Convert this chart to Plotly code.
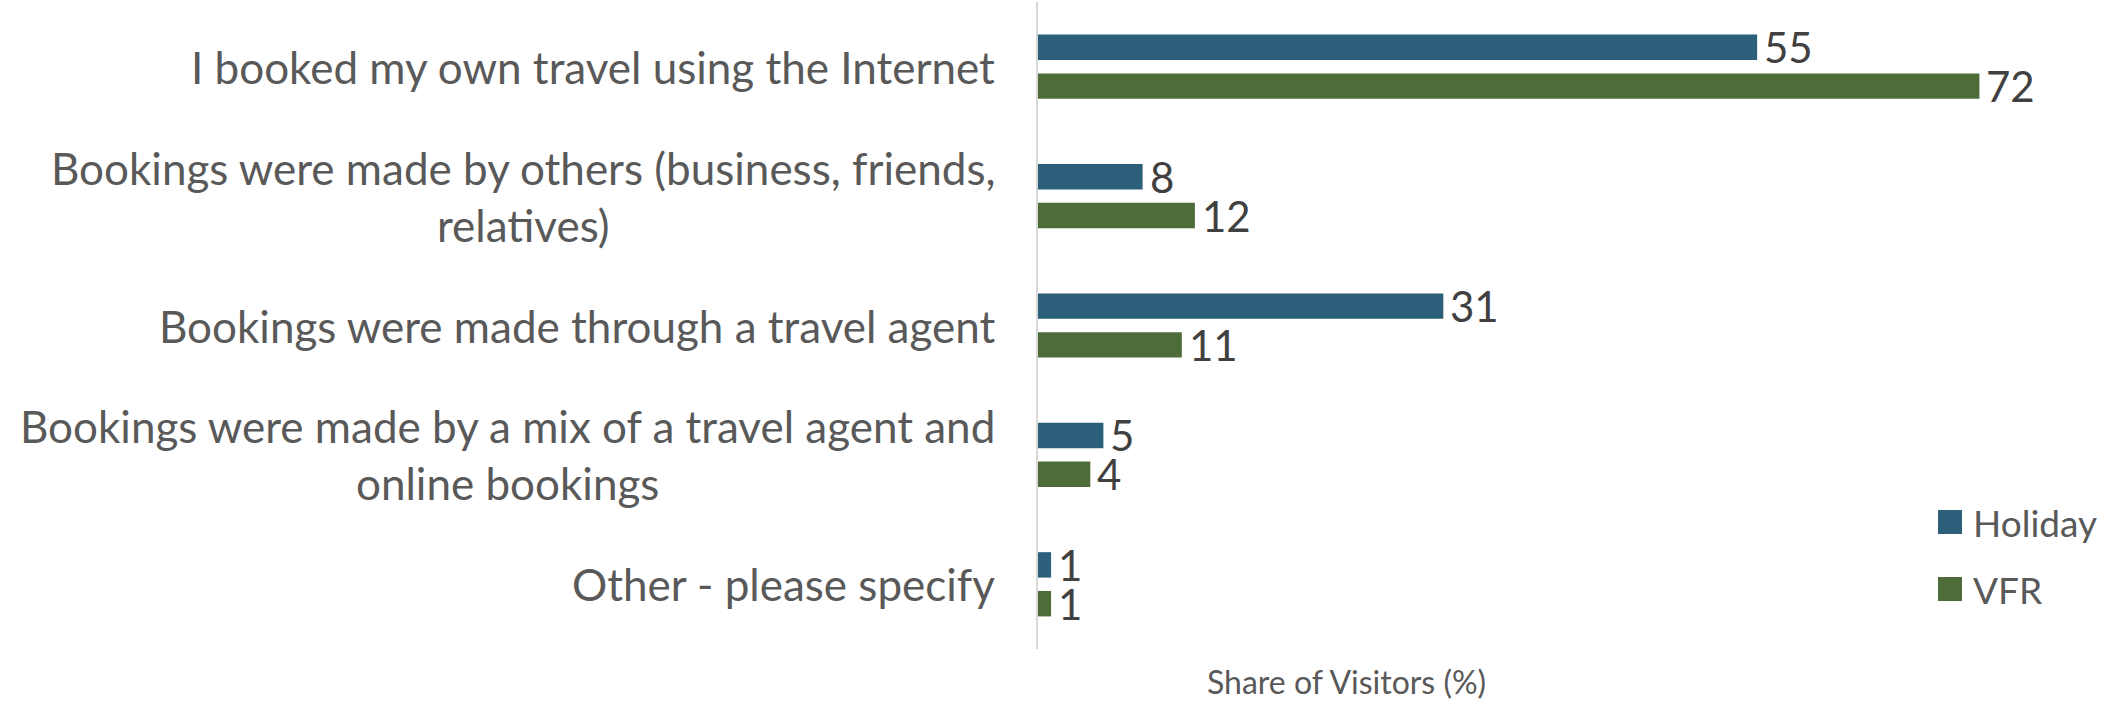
import plotly.graph_objects as go

# Booking method by visitor type, share of visitors (%)
categories = [
    "I booked my own travel using the Internet",
    "Bookings were made by others (business, friends,<br>relatives)",
    "Bookings were made through a travel agent",
    "Bookings were made by a mix of a travel agent and<br>online bookings",
    "Other - please specify",
]
holiday = [55, 8, 31, 5, 1]
vfr = [72, 12, 11, 4, 1]
series_names = ["Holiday", "VFR"]
axis_title = "Share of Visitors (%)"

FONT = "Lato, 'Open Sans', sans-serif"
HOLIDAY_COLOR = "#2C5F7A"
VFR_COLOR = "#4E6C37"

W, H = 2106, 704
L, R, T, B = 1038, 22, 2, 55
PLOT_W, PLOT_H = W - L - R, H - T - B
BARGAP = 0.4
slot = (1 - BARGAP) / 2  # width of each series slot within a category


def px_to_paper(px, py):
    """Convert page pixel position to paper coordinates."""
    return (px - L) / PLOT_W, (H - B - py) / PLOT_H


fig = go.Figure()
series = [
    (series_names[0], holiday, HOLIDAY_COLOR),
    (series_names[1], vfr, VFR_COLOR),
]
for k, (name, vals, color) in enumerate(series):
    fig.add_trace(go.Bar(
        y=list(range(len(categories))),
        x=vals,
        name=name,
        orientation="h",
        marker=dict(color=color, line=dict(width=0)),
        showlegend=False,
    ))
    # value labels just past the end of each bar
    offset = (k - 0.5) * slot
    for i, v in enumerate(vals):
        fig.add_annotation(
            x=v, xref="x", y=i + offset, yref="y",
            text=str(v), showarrow=False,
            xanchor="left", yanchor="middle", xshift=5,
            font=dict(family=FONT, size=42, color="#404040"),
        )

    # legend key: square swatch plus series name
    cy = 522 + 67 * k
    x0, y0 = px_to_paper(1938, cy + 12)
    x1, y1 = px_to_paper(1962, cy - 12)
    fig.add_shape(type="rect", xref="paper", yref="paper",
                  x0=x0, x1=x1, y0=y0, y1=y1,
                  fillcolor=color, line=dict(width=0))
    tx, ty = px_to_paper(1972, cy)
    fig.add_annotation(
        x=tx, xref="paper", y=ty, yref="paper",
        text=name, showarrow=False,
        xanchor="left", yanchor="middle", borderpad=0,
        font=dict(family=FONT, size=37, color="#595959"),
    )

# Category labels drawn beside the axis so wrapped lines are centred
for i, cat in enumerate(categories):
    fig.add_annotation(
        x=0, xref="paper", y=i, yref="y",
        text=cat, showarrow=False,
        xanchor="right", yanchor="middle", align="center",
        xshift=-42, borderpad=0,
        font=dict(family=FONT, size=44, color="#595959"),
    )

fig.add_annotation(
    x=0.295, xref="paper", y=-0.051, yref="paper",
    text=axis_title, showarrow=False,
    xanchor="center", yanchor="middle",
    font=dict(family=FONT, size=32, color="#595959"),
)

fig.update_layout(
    width=W, height=H,
    margin=dict(l=L, r=R, t=T, b=B),
    paper_bgcolor="white", plot_bgcolor="white",
    barmode="group", bargap=BARGAP, bargroupgap=0.345,
    font=dict(family=FONT, color="#595959"),
    showlegend=False,
    xaxis=dict(range=[0, 80], showgrid=False, zeroline=False,
               showticklabels=False, showline=False, ticks=""),
    yaxis=dict(range=[4.5, -0.5], showgrid=False, zeroline=False,
               showticklabels=False, ticks="",
               showline=True, linecolor="#D9D9D9", linewidth=2),
)

fig.write_html("out.html")
